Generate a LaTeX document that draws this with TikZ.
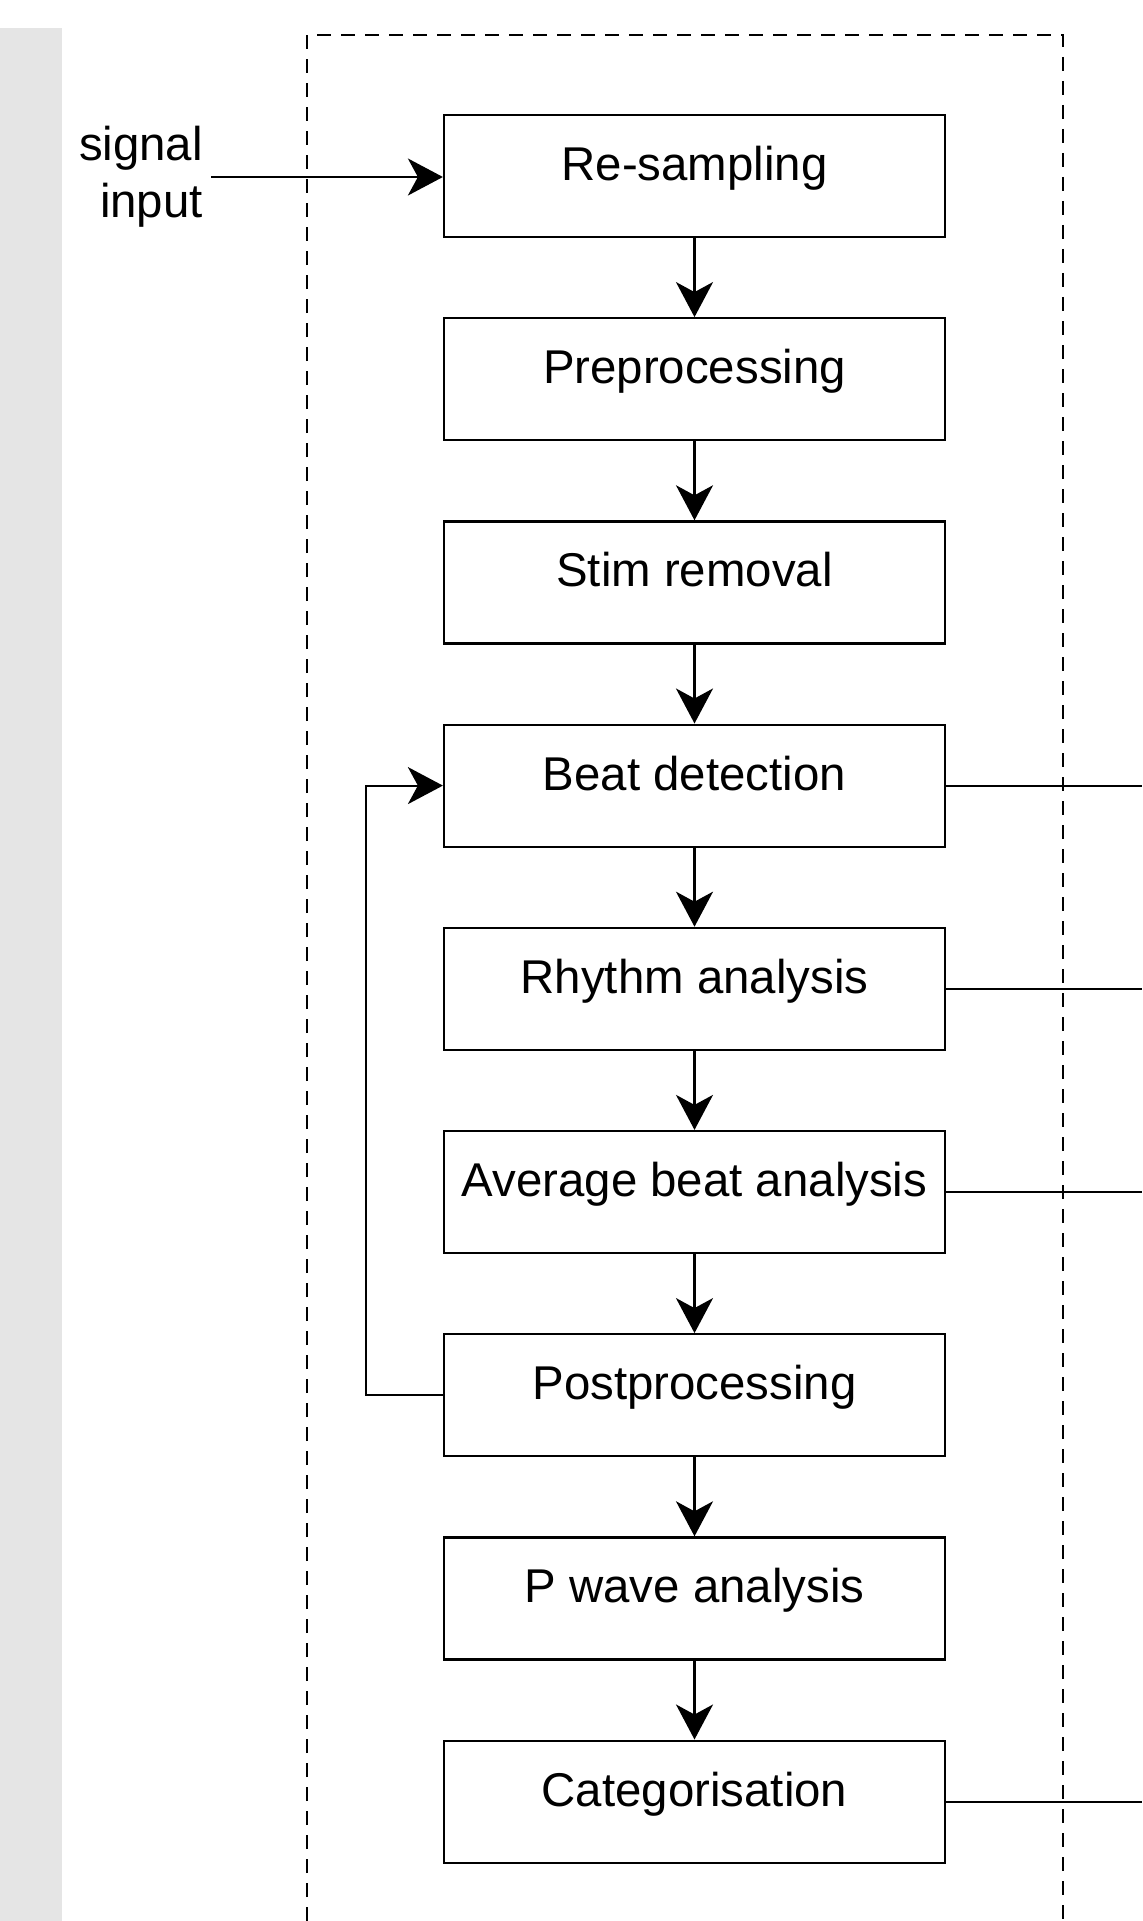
\documentclass[tikz,border=0pt]{standalone}
\usepackage{fontspec}
\setmainfont{Liberation Sans}
\usetikzlibrary{positioning}
\usetikzlibrary{arrows.meta}

\begin{document}
\begin{tikzpicture}[
    x=0.5pt, y=-0.5pt,
    line width=1.1pt,
    main node/.style={draw,rectangle,minimum width=250.5pt,minimum height=61pt,
      inner sep=0pt,font=\fontsize{23.7}{28.4}\selectfont,
      text height=0.72em,text depth=0.27em},
    label node/.style={inner sep=3.5pt,align=right,font=\fontsize{23.7}{28.4}\selectfont},
    flow/.style={-{Stealth[length=17.5pt,width=18.5pt,inset=5pt]}},
    frame/.style={dash pattern=on 7pt off 5pt},
    node distance=39.5pt,
    ]
  \useasboundingbox (0,0) rectangle (1142,1921);
  \fill[gray!20] (0,28) rectangle (62,1921);
  \draw[frame] (307,1921) -- (307,35) -- (1063,35) -- (1063,1921);

  \node[main node] (resample) at (694.5,176) {Re-sampling};
  \node[main node,below=of resample] (prep) {Preprocessing};
  \node[main node,below=of prep] (stim) {Stim removal};
  \node[main node,below=of stim] (beat) {Beat detection};
  \node[main node,below=of beat] (rhythm) {Rhythm analysis};
  \node[main node,below=of rhythm] (avg) {Average beat analysis};
  \node[main node,below=of avg] (post) {Postprocessing};
  \node[main node,below=of post] (pwave) {P wave analysis};
  \node[main node,below=of pwave] (categ) {Categorisation};

  \node[label node,anchor=east] (signal) at (211,177) {signal\\input};
  \coordinate (rim) at (1142,0);

  \draw[flow] (signal.east) -- (signal.east -| resample.west);
  \draw[flow] (resample) -- (prep);
  \draw[flow] (prep) -- (stim);
  \draw[flow] (stim) -- (beat);
  \draw[flow] (beat) -- (rhythm);
  \draw[flow] (rhythm) -- (avg);
  \draw[flow] (avg) -- (post);
  \draw[flow] (post) -- (pwave);
  \draw[flow] (pwave) -- (categ);

  \draw[flow] (post.west) -- ++(-77,0) |- (beat.west);

  \draw (beat.east) -- (beat.east -| rim);
  \draw (rhythm.east) -- (rhythm.east -| rim);
  \draw (avg.east) -- (avg.east -| rim);
  \draw (categ.east) -- (categ.east -| rim);
\end{tikzpicture}
\end{document}
